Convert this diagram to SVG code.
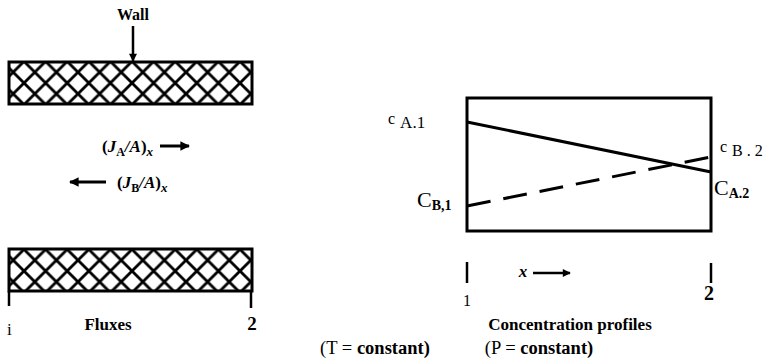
<svg xmlns="http://www.w3.org/2000/svg" width="763" height="362" viewBox="0 0 763 362">
<style>
text{font-family:"Liberation Serif","Times New Roman",serif;fill:#000}
.b{font-weight:bold}
.i{font-style:italic}
.wall{fill:url(#hatchTop);stroke:#000;stroke-width:3}
.ln{stroke:#000;fill:none;stroke-width:3}
.tk{stroke:#000;stroke-width:2.5}
</style>
<defs>
<pattern id="hatchTop" patternUnits="userSpaceOnUse" x="2.4" y="18.2" width="21.6" height="21.6">
<rect width="21.6" height="21.6" fill="#fff"/>
<path d="M-3,-3 L24.6,24.6 M24.6,-3 L-3,24.6" stroke="#000" stroke-width="2.8"/>
</pattern>
<pattern id="hatchBot" patternUnits="userSpaceOnUse" x="2.4" y="11.8" width="21.6" height="21.6">
<rect width="21.6" height="21.6" fill="#fff"/>
<path d="M-3,-3 L24.6,24.6 M24.6,-3 L-3,24.6" stroke="#000" stroke-width="2.8"/>
</pattern>
<marker id="ah" viewBox="0 0 10 10" refX="9" refY="5" markerWidth="3.6" markerHeight="3.2" orient="auto" markerUnits="strokeWidth">
<path d="M0,0 L10,5 L0,10 Z" fill="#000"/>
</marker>
</defs>

<rect width="763" height="362" fill="#fff"/>

<g id="fluxes">
<g id="wall-label">
<text x="133" y="20" class="b" font-size="16" text-anchor="middle">Wall</text>
</g>
<g id="top-wall">
<rect x="9" y="62" width="243" height="42" class="wall"/>
</g>
<g id="flux-A">
<text x="102" y="152" class="b" font-size="17">(<tspan class="i">J</tspan><tspan dy="4" font-size="12">A</tspan><tspan dy="-4" class="i">/A</tspan>)<tspan dy="4" font-size="13" class="i">x</tspan></text>
</g>
<g id="flux-B">
<text x="117" y="188" class="b" font-size="17">(<tspan class="i">J</tspan><tspan dy="4" font-size="12">B</tspan><tspan dy="-4" class="i">/A</tspan>)<tspan dy="4" font-size="13" class="i">x</tspan></text>
</g>
<g id="bottom-wall">
<rect x="9" y="249" width="243" height="42" class="wall" style="fill:url(#hatchBot)"/>
</g>
<g id="flux-axis">
<line x1="9" y1="291" x2="9" y2="306" class="tk"/>
<line x1="251" y1="291" x2="251" y2="308" class="tk"/>
<text x="7" y="335" font-size="17">i</text>
<text x="108" y="330" class="b" font-size="17" text-anchor="middle">Fluxes</text>
<text x="252" y="330" class="b" font-size="19" text-anchor="middle">2</text>
</g>
</g>

<g id="profiles">
<g id="plot-box">
<rect x="467" y="98" width="244" height="133" class="ln"/>
</g>
<g id="label-cA1">
<text x="388" y="124" font-size="16">c<tspan dx="5" dy="4" font-size="17">A.1</tspan></text>
</g>
<g id="label-cB2">
<text x="720" y="152" font-size="16">c<tspan dx="5" dy="4" font-size="16">B . 2</tspan></text>
</g>
<g id="label-CB1">
<text x="417" y="207" font-size="22">C<tspan dy="3" font-size="14" class="b">B,1</tspan></text>
</g>
<g id="label-CA2">
<text x="714" y="195" font-size="22">C<tspan dy="3" font-size="14" class="b">A.2</tspan></text>
</g>
<g id="plot-axis">
<line x1="467" y1="262" x2="467" y2="283" class="tk"/>
<line x1="711" y1="263" x2="711" y2="283" class="tk"/>
<text x="467" y="306" font-size="16" text-anchor="middle">1</text>
<text x="709" y="300" class="b" font-size="20" text-anchor="middle">2</text>
<text x="523" y="277" class="b i" font-size="17" text-anchor="middle">x</text>
<text x="570" y="330" class="b" font-size="17" text-anchor="middle">Concentration profiles</text>
</g>
</g>

<g id="connectors">
<line x1="160" y1="146" x2="189" y2="146" stroke="#000" stroke-width="3" marker-end="url(#ah)"/>
<line x1="133" y1="26" x2="133" y2="61" stroke="#000" stroke-width="2.5" marker-end="url(#ah)"/>
<line x1="106" y1="182" x2="70" y2="182" stroke="#000" stroke-width="3" marker-end="url(#ah)"/>
<line x1="533" y1="273" x2="570" y2="273" stroke="#000" stroke-width="2.5" marker-end="url(#ah)"/>
<line x1="467" y1="122" x2="711" y2="172" class="ln"/>
<line x1="467" y1="206" x2="711" y2="157" class="ln" stroke-dasharray="24 13"/>
</g>

<g id="conditions">
<text x="375" y="354" font-size="18.5" text-anchor="middle">(T = <tspan class="b">constant)</tspan></text>
<text x="539" y="354" font-size="18.5" text-anchor="middle">(P = <tspan class="b">constant)</tspan></text>
</g>
</svg>
